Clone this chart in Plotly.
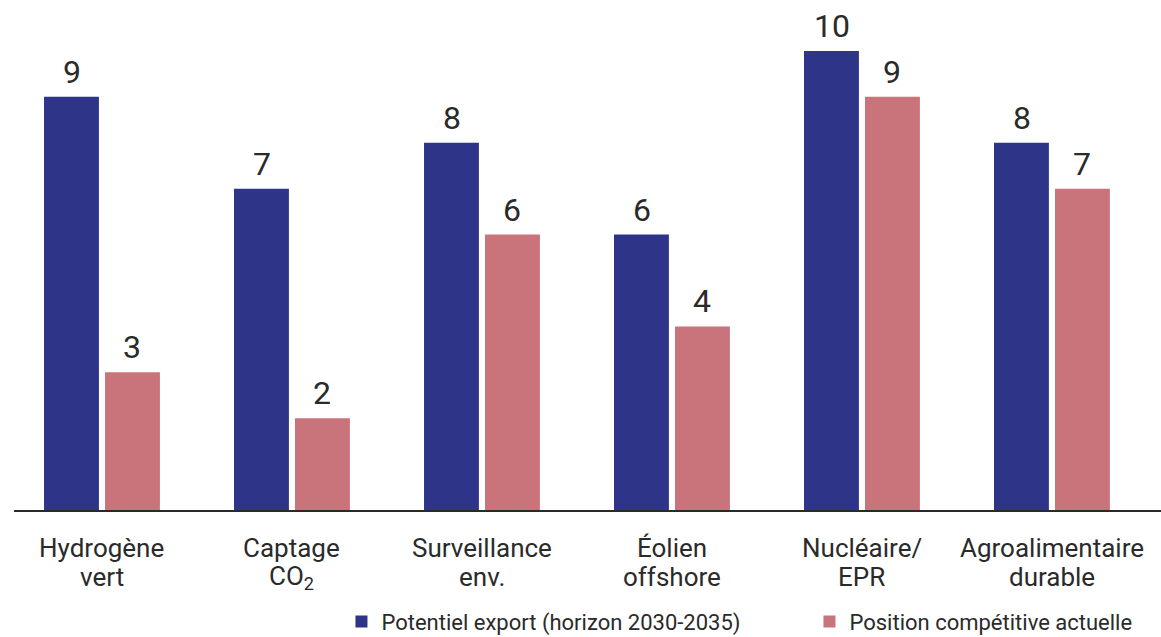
import plotly.graph_objects as go

categories = ["Hydrogène<br>vert", "Captage<br>CO<sub>2</sub>", "Surveillance<br>env.",
              "Éolien<br>offshore", "Nucléaire/<br>EPR", "Agroalimentaire<br>durable"]
potentiel = [9, 7, 8, 6, 10, 8]
position = [3, 2, 6, 4, 9, 7]
series_names = ["Potentiel export (horizon 2030-2035)", "Position compétitive actuelle"]
colors = ["#2E3488", "#C9737B"]
TXT = "#2a2a2a"
FONT = "Roboto"

fig = go.Figure()
for name, vals, col in zip(series_names, [potentiel, position], colors):
    fig.add_trace(go.Bar(x=categories, y=vals, name=name, marker_color=col,
                         marker_line_width=0))

# value labels
for k, vals in enumerate([potentiel, position]):
    off = -0.16 if k == 0 else 0.16
    for i, v in enumerate(vals):
        fig.add_annotation(x=i + off, y=v, xref="x", yref="y", text=str(v),
                           showarrow=False, yanchor="bottom", yshift=4,
                           font=dict(family=FONT, size=32, color=TXT))

# category labels, one annotation per line for tighter line spacing
for i, cat in enumerate(categories):
    for j, line in enumerate(cat.split("<br>")):
        fig.add_annotation(x=cat, y=0, xref="x", yref="paper", text=line,
                           showarrow=False, yanchor="middle",
                           yshift=-38 - 29 * j,
                           font=dict(family=FONT, size=26, color=TXT))

fig.update_layout(
    width=1161, height=637,
    margin=dict(l=14, r=0, t=0, b=127, autoexpand=False),
    paper_bgcolor="white", plot_bgcolor="white",
    barmode="group", bargap=0.358, bargroupgap=0.1,
    font=dict(family=FONT, color=TXT),
    showlegend=True,
    legend=dict(orientation="h", x=0.2855, xanchor="left", y=-0.178, yanchor="top",
                font=dict(family=FONT, size=22, color=TXT),
                bgcolor="rgba(0,0,0,0)", itemwidth=30, entrywidth=423,
                tracegroupgap=0),
    xaxis=dict(type="category", range=[-0.463, 5.574], showline=True,
               linecolor="#2a2a2a", linewidth=1.5, ticks="", showgrid=False,
               automargin=False, showticklabels=False),
    yaxis=dict(range=[0, 11.11], visible=False, showgrid=False, zeroline=False,
               automargin=False),
)

fig.write_html("out.html", config={"displayModeBar": False},
               post_script="document.body.style.margin='0px';document.body.style.overflow='hidden';")
